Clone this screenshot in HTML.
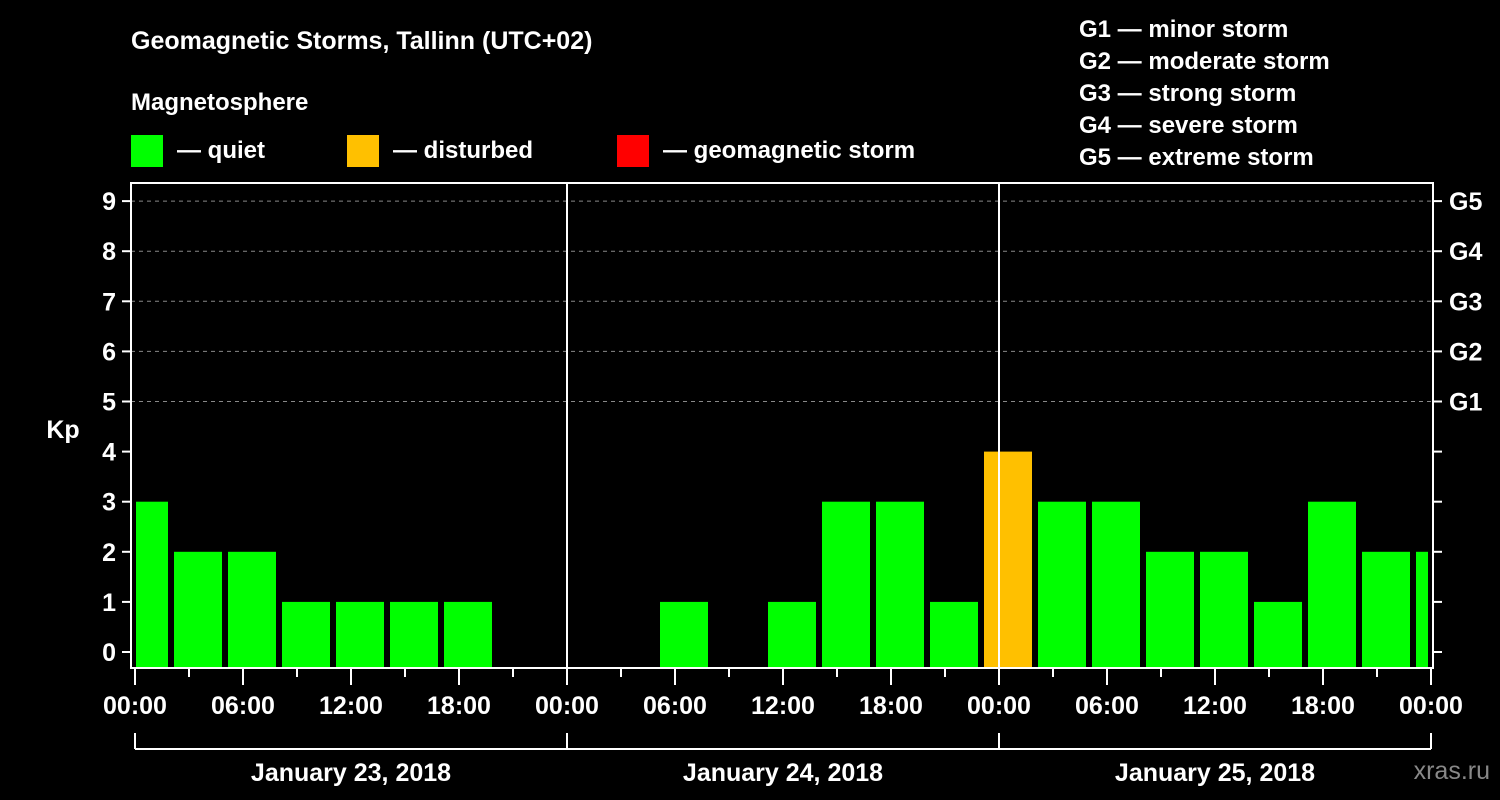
<!DOCTYPE html>
<html><head><meta charset="utf-8"><style>
html,body{margin:0;padding:0;background:#000;}
svg{display:block;font-family:"Liberation Sans",Arial,sans-serif;font-weight:bold;}
</style></head><body>
<svg id="c" width="1500" height="800" viewBox="0 0 1500 800">
<rect width="1500" height="800" fill="#000"/>
<text x="131" y="49" fill="#fff" font-size="25">Geomagnetic Storms, Tallinn (UTC+02)</text>
<text x="131" y="110" fill="#fff" font-size="24">Magnetosphere</text>
<g><rect x="131" y="135" width="32" height="32" fill="#00ff00"/><text x="177" y="158" fill="#fff" font-size="24">— quiet</text></g>
<g><rect x="347" y="135" width="32" height="32" fill="#ffc000"/><text x="393" y="158" fill="#fff" font-size="24">— disturbed</text></g>
<g><rect x="617" y="135" width="32" height="32" fill="#ff0000"/><text x="663" y="158" fill="#fff" font-size="24">— geomagnetic storm</text></g>
<g fill="#fff" font-size="24">
<text x="1079" y="37">G1 — minor storm</text>
<text x="1079" y="69">G2 — moderate storm</text>
<text x="1079" y="101">G3 — strong storm</text>
<text x="1079" y="133">G4 — severe storm</text>
<text x="1079" y="165">G5 — extreme storm</text>
</g>
<text x="63" y="438" fill="#fff" font-size="25" text-anchor="middle">Kp</text>
<text x="1490" y="779" fill="#888" font-size="25" text-anchor="end" font-weight="normal">xras.ru</text>
<g id="plot"></g>
</svg>
<script>
const kpValues=[3,2,2,1,1,1,1,null,null,null,1,null,1,3,3,1,4,3,3,2,2,1,3,2,2];
const yTicks=[0,1,2,3,4,5,6,7,8,9];
const gLabels=["G1","G2","G3","G4","G5"];
const hourLabels=["00:00","06:00","12:00","18:00","00:00","06:00","12:00","18:00","00:00","06:00","12:00","18:00","00:00"];
const dayLabels=["January 23, 2018","January 24, 2018","January 25, 2018"];
const NS="http://www.w3.org/2000/svg";
const g=document.getElementById('plot');
const L=131,R=1433,T=183,B=668,X0=135,PXH=18;
const x=h=>X0+h*PXH;
const y=v=>652-v*50.1;
function mk(t,a,p){const e=document.createElementNS(NS,t);for(const k in a)e.setAttribute(k,a[k]);(p||g).appendChild(e);return e;}
// grid
for(const v of yTicks){if(v>=5){const l=mk('line',{x1:L,x2:R,y1:y(v),y2:y(v),stroke:'#888','stroke-dasharray':'4,4','stroke-width':1});

}}
// bars
kpValues.forEach((v,i)=>{if(v===null)return;const s=-1+3*i;let x1=x(s)+3,x2=x(s+3)-3;x1=Math.max(x1,L+5);x2=Math.min(x2,R-5);
const col=v>=5?'#ff0000':(v>=4?'#ffc000':'#00ff00');
const r=mk('rect',{x:x1,y:y(v),width:x2-x1,height:B-y(v),fill:col});

});
// day separators
for(let d=1;d<3;d++){const l=mk('line',{x1:x(24*d),x2:x(24*d),y1:T,y2:B,stroke:'#fff','stroke-width':2});

}
// frame
const f=mk('rect',{x:L,y:T,width:R-L,height:B-T,fill:'none',stroke:'#fff','stroke-width':2});


// y ticks
yTicks.forEach(v=>{mk('line',{x1:L-9,x2:L,y1:y(v),y2:y(v),stroke:'#fff','stroke-width':2});mk('line',{x1:R,x2:R+9,y1:y(v),y2:y(v),stroke:'#fff','stroke-width':2});
const t=mk('text',{x:116,y:y(v)+9,fill:'#fff','font-size':25,'text-anchor':'end'});t.textContent=v;

});
gLabels.forEach((s,i)=>{const t=mk('text',{x:1449,y:y(5+i)+9,fill:'#fff','font-size':25});t.textContent=s;

});
// x ticks
for(let h=0;h<=72;h+=3){mk('line',{x1:x(h),x2:x(h),y1:B,y2:h%6===0?B+17:B+9,stroke:'#fff','stroke-width':2});}
hourLabels.forEach((s,i)=>{const t=mk('text',{x:x(6*i*1),y:714,fill:'#fff','font-size':25,'text-anchor':'middle'});t.textContent=s;

});
// day brackets
mk('line',{x1:x(0),x2:x(72),y1:749,y2:749,stroke:'#fff','stroke-width':2});
for(let d=0;d<=3;d++)mk('line',{x1:x(24*d),x2:x(24*d),y1:733,y2:749,stroke:'#fff','stroke-width':2});
dayLabels.forEach((s,i)=>{const t=mk('text',{x:x(24*i+12),y:781,fill:'#fff','font-size':25,'text-anchor':'middle'});t.textContent=s;

});
</script>
</body></html>
